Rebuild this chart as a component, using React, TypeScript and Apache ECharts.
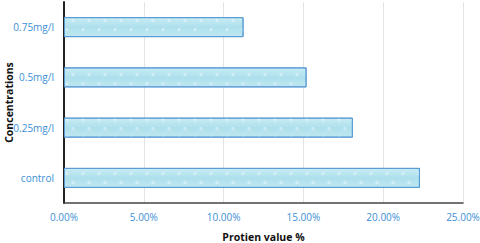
import React, { useEffect, useRef } from "react";
import * as echarts from "echarts";

const categories = ["control", "0.25mg/l", "0.5mg/l", "0.75mg/l"];
const values = [0.223, 0.181, 0.152, 0.1125];
const xTicks = [0, 0.05, 0.1, 0.15, 0.2, 0.25];

export default function App() {
  const ref = useRef<HTMLDivElement>(null);
  useEffect(() => {
    const chart = echarts.init(ref.current!, null, { renderer: "svg" });
    const labelColor = "#3d8fd6";
    chart.setOption({
      animation: false,
      grid: { left: 64, right: 17, top: 2, bottom: 40, containLabel: false, outerBoundsMode: "none" },
      xAxis: {
        type: "value",
        min: xTicks[0],
        max: xTicks[xTicks.length - 1],
        interval: 0.05,
        name: "Protien value %",
        nameLocation: "middle",
        nameGap: 28,
        nameMoveOverlap: false,
        nameTextStyle: { fontFamily: "Open Sans", fontSize: 10.5, fontWeight: "bold", color: "#111" },
        axisLine: { show: true, lineStyle: { color: "#444", width: 1.5 } },
        axisTick: { show: false },
        splitLine: { show: true, lineStyle: { color: "#e3e3e3", width: 1 } },
        axisLabel: {
          color: labelColor,
          fontFamily: "Open Sans",
          fontSize: 10,
          margin: 9,
          formatter: (v: number) => (v * 100).toFixed(2) + "%",
        },
      },
      yAxis: {
        type: "category",
        data: categories,
        name: "Concentrations",
        nameLocation: "middle",
        nameGap: 50,
        nameMoveOverlap: false,
        nameTextStyle: { fontFamily: "Open Sans", fontSize: 10.5, fontWeight: "bold", color: "#111" },
        axisLine: { show: true, lineStyle: { color: "#222", width: 2 } },
        axisTick: { show: false },
        axisLabel: { color: labelColor, fontFamily: "Open Sans", fontSize: 10, margin: 10 },
      },
      series: [
        {
          type: "bar",
          data: values,
          barWidth: 20,
          itemStyle: {
            color: new echarts.graphic.LinearGradient(0, 0, 0, 1, [
              { offset: 0, color: "#c9ecf3" },
              { offset: 0.5, color: "#ade0ec" },
              { offset: 1, color: "#bfe7f1" },
            ]),
            borderColor: "#5b9bd5",
            borderWidth: 1,
            decal: {
              symbol: "circle",
              symbolSize: 0.7,
              color: "rgba(255,255,255,0.35)",
              dashArrayX: [[6, 10], [0, 6, 6, 4]],
              dashArrayY: [5, 4],
              rotation: 0,
            },
          },
        },
      ],
    });
    return () => chart.dispose();
  }, []);
  return <div ref={ref} style={{ width: 480, height: 243, position: "absolute", left: 0, top: 0 }} />;
}
